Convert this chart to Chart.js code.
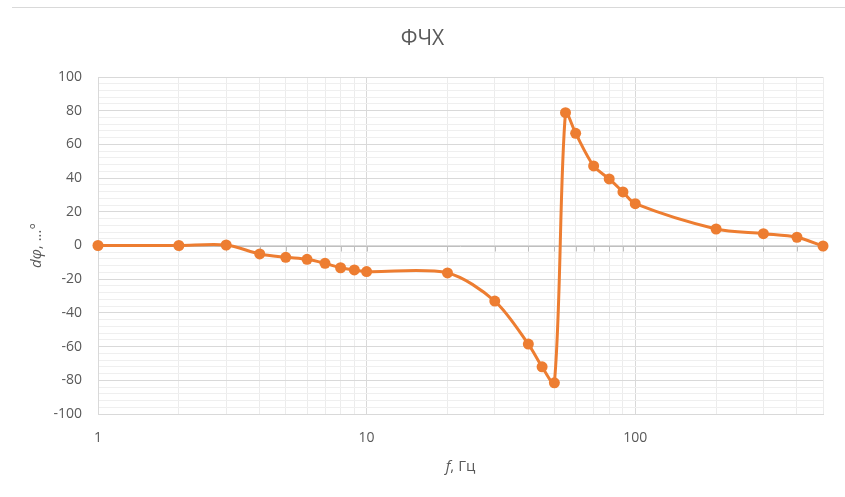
<!DOCTYPE html>
<html>
<head>
<meta charset="utf-8">
<script src="https://cdn.jsdelivr.net/npm/chart.js@4"></script>
<style>
  html, body { margin: 0; padding: 0; background: #ffffff; }
  #wrap { position: relative; width: 845px; height: 497px; }
  #frame { position: absolute; top: 7px; left: 12px; right: 0; height: 0; border-top: 1px solid #d9d9d9; }
  canvas { position: absolute; top: 0; left: 0; }
</style>
</head>
<body>
<div id="wrap">
  <div id="frame"></div>
  <canvas id="c" width="845" height="497"></canvas>
</div>
<script>
// ---- data ----
const frequencies = [1, 2, 3, 4, 5, 6, 7, 8, 9, 10, 20, 30, 40, 45, 50, 55, 60, 70, 80, 90, 100, 200, 300, 400, 500];
const phaseDiff   = [0, 0, 0.3, -5, -7, -8.2, -10.6, -13.2, -14.5, -15.5, -16.3, -33, -58.5, -72, -81.5, 78.8, 66.6, 47.2, 39.5, 31.8, 24.8, 9.8, 7.0, 4.9, -0.3];
const xTickValues = [1, 2, 3, 4, 5, 6, 7, 8, 9, 10, 20, 30, 40, 50, 60, 70, 80, 90, 100, 200, 300, 400, 500];
const xTickLabels = [1, 10, 100];
const yMajorTicks = [-100, -80, -60, -40, -20, 0, 20, 40, 60, 80, 100];
const titleText = 'ФЧХ';
const xTitleItalic = 'f';
const xTitleRest = ', Гц';
const yTitleItalic = 'dφ';
const yTitleRest = ', ...°';

const textColor = '#595959';
const fontFam = '"Open Sans", "Liberation Sans", sans-serif';

const axisTitles = {
  id: 'axisTitles',
  afterDraw(chart) {
    const ctx = chart.ctx;
    const ca = chart.chartArea;
    ctx.save();
    ctx.fillStyle = textColor;
    ctx.textBaseline = 'middle';
    // x title
    ctx.font = 'italic 15px ' + fontFam;
    const w1 = ctx.measureText(xTitleItalic).width;
    ctx.font = '15px ' + fontFam;
    const w2 = ctx.measureText(xTitleRest).width;
    let x0 = (ca.left + ca.right) / 2 - (w1 + w2) / 2;
    const yx = 467;
    ctx.textAlign = 'left';
    ctx.font = 'italic 15px ' + fontFam;
    ctx.fillText(xTitleItalic, x0, yx);
    ctx.font = '15px ' + fontFam;
    ctx.fillText(xTitleRest, x0 + w1, yx);
    // y title
    ctx.translate(37, (ca.top + ca.bottom) / 2);
    ctx.rotate(-Math.PI / 2);
    ctx.font = 'italic 15px ' + fontFam;
    const v1 = ctx.measureText(yTitleItalic).width;
    ctx.font = '15px ' + fontFam;
    const v2 = ctx.measureText(yTitleRest).width;
    let s = -(v1 + v2) / 2;
    ctx.font = 'italic 15px ' + fontFam;
    ctx.fillText(yTitleItalic, s, 0);
    ctx.font = '15px ' + fontFam;
    ctx.fillText(yTitleRest, s + v1, 0);
    ctx.restore();
  }
};

const zeroAxis = {
  id: 'zeroAxis',
  beforeDatasetsDraw(chart) {
    const ctx = chart.ctx;
    const xs = chart.scales.x, ys = chart.scales.y;
    const y0 = Math.round(ys.getPixelForValue(0)) + 0.5;
    ctx.save();
    ctx.strokeStyle = '#bfbfbf';
    ctx.lineWidth = 1;
    ctx.beginPath();
    ctx.moveTo(chart.chartArea.left, y0);
    ctx.lineTo(chart.chartArea.right, y0);
    for (const v of xTickValues) {
      const px = Math.round(xs.getPixelForValue(v)) + 0.5;
      ctx.moveTo(px, y0);
      ctx.lineTo(px, y0 + 5);
    }
    ctx.stroke();
    ctx.restore();
  }
};

new Chart(document.getElementById('c'), {
  type: 'line',
  data: {
    datasets: [{
      data: frequencies.map((f, i) => ({ x: f, y: phaseDiff[i] })),
      borderColor: '#ED7D31',
      backgroundColor: '#ED7D31',
      borderWidth: 3,
      pointRadius: 5.5,
      pointHoverRadius: 5.5,
      pointBorderWidth: 0,
      tension: 0.3,
      clip: false
    }]
  },
  options: {
    responsive: false,
    animation: false,
    events: [],
    layout: { padding: { left: 22, right: 22, top: 0, bottom: 0 } },
    plugins: {
      legend: { display: false },
      tooltip: { enabled: false },
      title: {
        display: true,
        text: titleText,
        color: textColor,
        font: { family: fontFam, size: 21, weight: 'normal', lineHeight: 1.2 },
        padding: { top: 26, bottom: 25.8 }
      }
    },
    scales: {
      x: {
        type: 'logarithmic',
        min: 1,
        max: 500,
        afterBuildTicks(scale) {
          scale.ticks = xTickValues.map(v => ({ value: v }));
        },
        afterFit(scale) { scale.height = 497 - 414; },
        ticks: {
          autoSkip: false,
          maxRotation: 0,
          padding: 16,
          color: textColor,
          font: { family: fontFam, size: 14 },
          callback: (v) => xTickLabels.includes(v) ? String(v) : ''
        },
        grid: {
          drawTicks: false,
          color: (ctx) => (ctx.tick && xTickLabels.includes(ctx.tick.value)) ? '#d9d9d9' : '#ececec',
          lineWidth: 1
        },
        border: { display: true, color: '#d9d9d9' }
      },
      y: {
        min: -100,
        max: 100,
        afterBuildTicks(scale) {
          const t = [];
          for (let v = -100; v <= 100; v += 4) t.push({ value: v });
          scale.ticks = t;
        },
        afterFit(scale) { scale.width = 76; },
        ticks: {
          autoSkip: false,
          padding: 16,
          color: textColor,
          font: { family: fontFam, size: 14 },
          callback: (v) => yMajorTicks.includes(v) ? String(v) : ''
        },
        grid: {
          drawTicks: false,
          color: (ctx) => (ctx.tick && yMajorTicks.includes(ctx.tick.value)) ? '#d9d9d9' : '#efefef',
          lineWidth: 1
        },
        border: { display: true, color: '#d9d9d9' }
      }
    }
  },
  plugins: [zeroAxis, axisTitles]
});
</script>
</body>
</html>
